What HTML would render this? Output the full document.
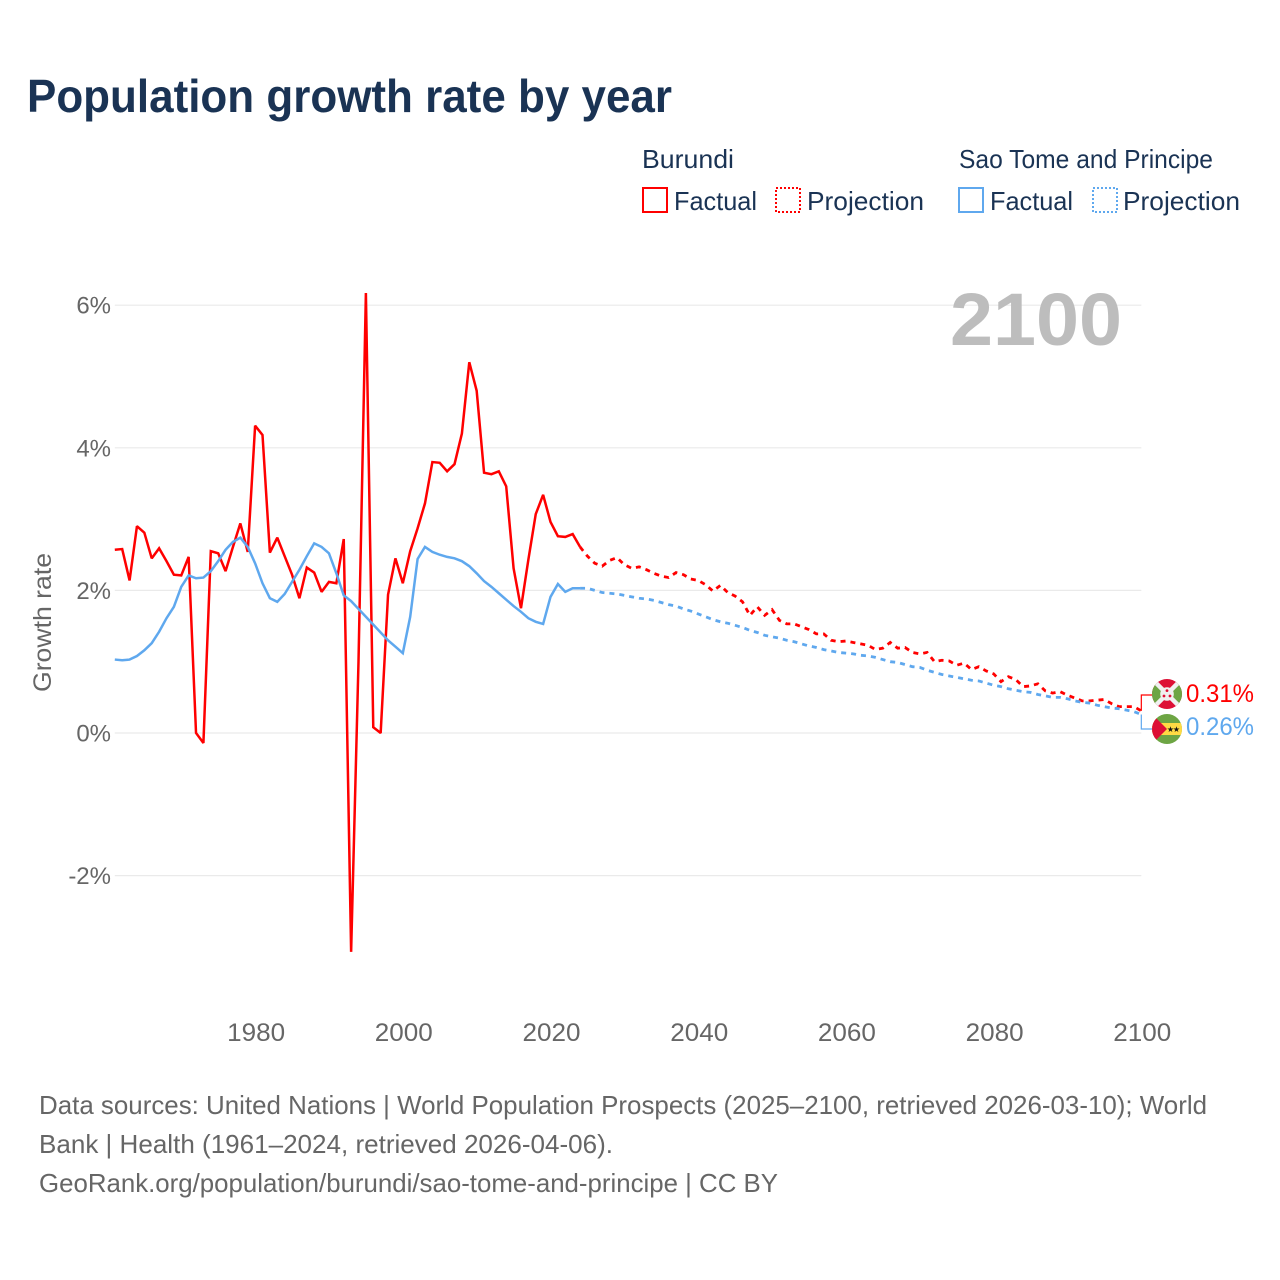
<!DOCTYPE html>
<html lang="en">
<head>
<meta charset="utf-8">
<title>Population growth rate by year</title>
<style>
html,body{margin:0;padding:0;background:#fff;}
svg{display:block;font-family:"Liberation Sans",sans-serif;}
</style>
</head>
<body>
<svg id="chart" xmlns="http://www.w3.org/2000/svg" width="1280" height="1280" viewBox="0 0 1280 1280">
  <rect width="1280" height="1280" fill="#fff"/>
  <text x="27" y="112" font-size="46" font-weight="700" fill="#1a3354" textLength="645" lengthAdjust="spacingAndGlyphs">Population growth rate by year</text>

  <g font-size="26" fill="#1a3354">
    <text x="642" y="168" textLength="92" lengthAdjust="spacingAndGlyphs">Burundi</text>
    <text x="959" y="168" textLength="254" lengthAdjust="spacingAndGlyphs">Sao Tome and Principe</text>
    <rect x="643" y="188" width="24" height="24" fill="none" stroke="#ff0000" stroke-width="2"/>
    <text x="674" y="210" textLength="83" lengthAdjust="spacingAndGlyphs">Factual</text>
    <rect x="776" y="188" width="24" height="24" fill="none" stroke="#ff0000" stroke-width="2" stroke-dasharray="2 2"/>
    <text x="807" y="210" textLength="117" lengthAdjust="spacingAndGlyphs">Projection</text>
    <rect x="959" y="188" width="24" height="24" fill="none" stroke="#5fa8ee" stroke-width="2"/>
    <text x="990" y="210" textLength="83" lengthAdjust="spacingAndGlyphs">Factual</text>
    <rect x="1093" y="188" width="24" height="24" fill="none" stroke="#5fa8ee" stroke-width="2" stroke-dasharray="2 2"/>
    <text x="1123" y="210" textLength="117" lengthAdjust="spacingAndGlyphs">Projection</text>
  </g>

  <g id="grid"></g>
  <g id="yticks" font-size="24" fill="#666"></g>
  <g id="xticks" font-size="25" fill="#666"></g>

  <text transform="translate(51,622.5) rotate(-90)" text-anchor="middle" font-size="25" fill="#666" textLength="139" lengthAdjust="spacingAndGlyphs">Growth rate</text>
  <text x="950" y="345" font-size="74" font-weight="700" fill="#bdbdbd" textLength="172" lengthAdjust="spacingAndGlyphs">2100</text>

  <g id="series"></g>

  <path id="conA" d="" fill="none" stroke="#ff0000" stroke-width="1.2"/>
  <path id="conB" d="" fill="none" stroke="#5fa8ee" stroke-width="1.2"/>

  <defs>
    <clipPath id="clipBi"><circle cx="1167" cy="694" r="15"/></clipPath>
    <clipPath id="clipSt"><circle cx="1167" cy="729" r="15"/></clipPath>
  </defs>
  <g clip-path="url(#clipBi)">
    <rect x="1152" y="679" width="30" height="30" fill="#dd0f35"/>
    <polygon points="1152,679 1167,694 1152,709" fill="#6da544"/>
    <polygon points="1182,679 1167,694 1182,709" fill="#6da544"/>
    <path d="M1152 679L1182 709M1182 679L1152 709" stroke="#f0f0f0" stroke-width="4.5"/>
    <circle cx="1167" cy="694" r="6.8" fill="#f0f0f0"/>
    <circle cx="1167" cy="690.6" r="1.4" fill="#dd0f35"/>
    <circle cx="1164" cy="696" r="1.4" fill="#dd0f35"/>
    <circle cx="1170" cy="696" r="1.4" fill="#dd0f35"/>
  </g>
  <g clip-path="url(#clipSt)">
    <rect x="1152" y="714" width="30" height="30" fill="#6da544"/>
    <rect x="1152" y="723" width="30" height="12" fill="#ffda44"/>
    <polygon points="1152,714 1167,729 1152,744" fill="#dd0f35"/>
    <text x="1170.5" y="732" font-size="8" text-anchor="middle" fill="#111">★</text>
    <text x="1176.5" y="732" font-size="8" text-anchor="middle" fill="#111">★</text>
  </g>

  <text x="1186" y="702" font-size="25" fill="#ff0000" textLength="68" lengthAdjust="spacingAndGlyphs">0.31%</text>
  <text x="1186" y="735" font-size="25" fill="#5fa8ee" textLength="68" lengthAdjust="spacingAndGlyphs">0.26%</text>

  <g font-size="26" fill="#666">
    <text x="39" y="1114" textLength="1168" lengthAdjust="spacingAndGlyphs">Data sources: United Nations | World Population Prospects (2025–2100, retrieved 2026-03-10); World</text>
    <text x="39" y="1153" textLength="574" lengthAdjust="spacingAndGlyphs">Bank | Health (1961–2024, retrieved 2026-04-06).</text>
    <text x="39" y="1192" textLength="739" lengthAdjust="spacingAndGlyphs">GeoRank.org/population/burundi/sao-tome-and-principe | CC BY</text>
  </g>
</svg>

<script>
const factualStartYear = 1961;
const projectionStartYear = 2025;
const xTickLabels = [1980, 2000, 2020, 2040, 2060, 2080, 2100];
const yTickValues = [-2, 0, 2, 4, 6];
const burundiFactual = [2.57,2.58,2.14,2.90,2.81,2.45,2.59,2.41,2.22,2.21,2.47,0.00,-0.14,2.55,2.52,2.27,2.61,2.94,2.54,4.31,4.18,2.53,2.74,2.48,2.22,1.89,2.32,2.25,1.98,2.12,2.10,2.72,-3.07,1.00,6.17,0.08,0.00,1.94,2.45,2.10,2.55,2.87,3.22,3.80,3.79,3.67,3.77,4.20,5.20,4.80,3.65,3.63,3.67,3.46,2.31,1.75,2.43,3.07,3.34,2.96,2.76,2.75,2.79,2.61];
const burundiProjection = [2.48,2.38,2.34,2.42,2.46,2.36,2.31,2.33,2.29,2.24,2.20,2.18,2.25,2.22,2.16,2.14,2.08,1.99,2.07,1.97,1.92,1.84,1.65,1.77,1.65,1.73,1.58,1.53,1.53,1.49,1.45,1.39,1.39,1.30,1.28,1.29,1.27,1.25,1.23,1.17,1.19,1.27,1.19,1.20,1.13,1.11,1.13,1.00,1.02,1.01,0.95,0.98,0.89,0.93,0.87,0.83,0.72,0.79,0.75,0.65,0.66,0.69,0.59,0.56,0.58,0.53,0.49,0.45,0.45,0.46,0.47,0.41,0.37,0.37,0.37,0.31];
const saoTomeFactual = [1.03,1.02,1.03,1.08,1.16,1.26,1.42,1.61,1.77,2.05,2.21,2.17,2.18,2.27,2.41,2.57,2.68,2.74,2.61,2.38,2.10,1.89,1.84,1.95,2.12,2.29,2.48,2.66,2.61,2.52,2.24,1.93,1.85,1.74,1.63,1.52,1.41,1.30,1.21,1.12,1.63,2.44,2.61,2.54,2.50,2.47,2.45,2.41,2.34,2.24,2.13,2.05,1.96,1.87,1.78,1.70,1.61,1.56,1.53,1.91,2.09,1.98,2.03,2.03];
const saoTomeProjection = [2.03,2.00,1.97,1.96,1.95,1.93,1.91,1.89,1.88,1.86,1.83,1.80,1.78,1.74,1.71,1.67,1.63,1.59,1.56,1.54,1.51,1.48,1.44,1.41,1.37,1.35,1.33,1.30,1.28,1.25,1.22,1.20,1.17,1.15,1.13,1.12,1.11,1.09,1.08,1.06,1.03,1.00,0.99,0.96,0.93,0.92,0.88,0.85,0.82,0.80,0.78,0.76,0.74,0.73,0.70,0.67,0.65,0.62,0.60,0.58,0.57,0.54,0.52,0.50,0.50,0.48,0.45,0.43,0.42,0.39,0.37,0.35,0.34,0.32,0.30,0.26];

const NS = 'http://www.w3.org/2000/svg';
const xScale = function (year) { return 114.8 + (year - 1961) * 7.385; };
const yScale = function (v) { return 733 - v * 71.3; };
const gridLayer = document.getElementById('grid');
const yTickLayer = document.getElementById('yticks');
const xTickLayer = document.getElementById('xticks');
const seriesLayer = document.getElementById('series');

yTickValues.forEach(function (v) {
  const line = document.createElementNS(NS, 'line');
  
  
  line.setAttribute('x1', xScale(factualStartYear));
  line.setAttribute('x2', xScale(2100));
  line.setAttribute('y1', yScale(v));
  line.setAttribute('y2', yScale(v));
  line.setAttribute('stroke', '#eaeaea');
  line.setAttribute('stroke-width', '1.2');
  gridLayer.appendChild(line);

  const label = document.createElementNS(NS, 'text');
  
  
  label.setAttribute('x', '111');
  label.setAttribute('y', yScale(v) + 8.5);
  label.setAttribute('text-anchor', 'end');
  label.textContent = v + '%';
  yTickLayer.appendChild(label);
});

xTickLabels.forEach(function (year) {
  const label = document.createElementNS(NS, 'text');
  
  
  label.setAttribute('x', xScale(year) + 1);
  label.setAttribute('y', '1041');
  label.setAttribute('text-anchor', 'middle');
  label.setAttribute('textLength', '58');
  label.setAttribute('lengthAdjust', 'spacingAndGlyphs');
  label.textContent = year;
  xTickLayer.appendChild(label);
});

function pointsFrom(values, startYear) {
  return values.map(function (v, i) {
    return xScale(startYear + i).toFixed(2) + ',' + yScale(v).toFixed(2);
  });
}

function drawSeries(name, color, factual, projection) {
  const solid = document.createElementNS(NS, 'polyline');
  
  
  solid.setAttribute('points', pointsFrom(factual, factualStartYear).join(' '));
  solid.setAttribute('fill', 'none');
  solid.setAttribute('stroke', color);
  solid.setAttribute('stroke-width', '2.5');
  solid.setAttribute('stroke-linejoin', 'miter');
  solid.setAttribute('stroke-miterlimit', '2');
  seriesLayer.appendChild(solid);

  const lastFactualYear = factualStartYear + factual.length - 1;
  const joined = [factual[factual.length - 1]].concat(projection);
  const dashed = document.createElementNS(NS, 'polyline');
  
  
  dashed.setAttribute('points', pointsFrom(joined, lastFactualYear).join(' '));
  dashed.setAttribute('fill', 'none');
  dashed.setAttribute('stroke', color);
  dashed.setAttribute('stroke-width', '2.8');
  dashed.setAttribute('stroke-dasharray', '5 5');
  seriesLayer.appendChild(dashed);
}

drawSeries('burundi', '#ff0000', burundiFactual, burundiProjection);
drawSeries('sao-tome', '#5fa8ee', saoTomeFactual, saoTomeProjection);

const endX = xScale(2100);
document.getElementById('conA').setAttribute('d', 'M' + endX + ' ' + yScale(burundiProjection[burundiProjection.length - 1]) + 'V695H1152');
document.getElementById('conB').setAttribute('d', 'M' + endX + ' ' + yScale(saoTomeProjection[saoTomeProjection.length - 1]) + 'V729H1152');
</script>
</body>
</html>
